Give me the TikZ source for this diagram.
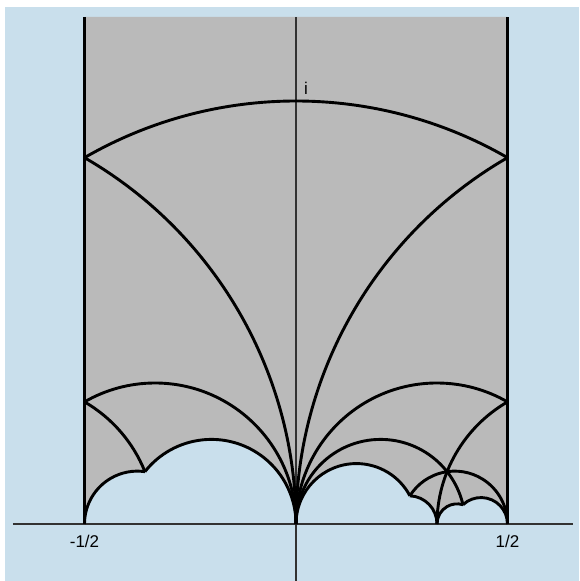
\documentclass[tikz,border=0pt]{standalone}
\usepackage{fontspec}
\setmainfont{Liberation Sans}
\definecolor{bgblue}{RGB}{201,223,236}
\definecolor{domgray}{RGB}{186,186,186}
\definecolor{axisgray}{RGB}{50,50,50}
\begin{document}
\begin{tikzpicture}[x=1pt,y=1pt,
  thickline/.style={line width=2.9pt,black},
  axisline/.style={line width=1.2pt,axisgray},
  lab/.style={font=\fontsize{17}{19}\selectfont,inner sep=0pt}]
\useasboundingbox (0,0) rectangle (579,581);
\fill[white] (0,0) rectangle (579,581);
\fill[bgblue] (5,0) rectangle (579,574);
\begin{scope}[shift={(296pt,57pt)},x=423pt,y=423pt]
  \coordinate (O) at (0,0);
  \coordinate (Lh) at (-0.5,0);
  \coordinate (Rh) at (0.5,0);
  \coordinate (T) at (0.3333333,0);
  \coordinate (Ltop) at (-0.5,1.198582);
  \coordinate (Rtop) at (0.5,1.198582);
  \coordinate (P1) at (-0.5,0.8660254);
  \coordinate (P2) at (0.5,0.8660254);
  \coordinate (Q1) at (-0.5,0.2886751);
  \coordinate (Q2) at (0.5,0.2886751);
  \coordinate (C) at (-0.3571429,0.1237179);
  \coordinate (X) at (0.3571429,0.1237179);
  \coordinate (A) at (0.2692308,0.0666173);
  \coordinate (B) at (0.3947368,0.0455803);
  \coordinate (AxL) at (-0.6690307,0);
  \coordinate (AxR) at (0.6548463,0);
  \coordinate (AxB) at (0,-0.1347518);
  \coordinate (AxT) at (0,1.198582);
  % gray domain
  \fill[domgray] (Ltop) -- (Lh)
    arc[start angle=180,end angle=81.787,radius=52.875pt]
    arc[start angle=141.787,end angle=0,radius=84.6pt]
    arc[start angle=180,end angle=27.796,radius=60.42857pt]
    arc[start angle=87.796,end angle=0,radius=28.2pt]
    arc[start angle=180,end angle=73.174,radius=20.142857pt]
    arc[start angle=133.174,end angle=0,radius=26.4375pt]
    -- (Rtop) -- cycle;
  % axes
  \draw[axisline] (AxL) -- (AxR);
  \draw[axisline] (AxB) -- (AxT);
  % thick boundary lines
  \draw[thickline] (Lh) -- (Ltop);
  \draw[thickline] (Rh) -- (Rtop);
  \draw[thickline] (P2) arc[start angle=60,end angle=120,radius=423pt];
  \draw[thickline] (O) arc[start angle=0,end angle=60,radius=423pt];
  \draw[thickline] (O) arc[start angle=180,end angle=120,radius=423pt];
  \draw[thickline] (O) arc[start angle=0,end angle=120,radius=141pt];
  \draw[thickline] (O) arc[start angle=180,end angle=60,radius=141pt];
  \draw[thickline] (Q1) arc[start angle=60,end angle=21.787,radius=141pt];
  \draw[thickline] (Q2) arc[start angle=120,end angle=180,radius=141pt];
  \draw[thickline] (Lh) arc[start angle=180,end angle=81.787,radius=52.875pt];
  \draw[thickline] (C) arc[start angle=141.787,end angle=0,radius=84.6pt];
  \draw[thickline] (O) arc[start angle=180,end angle=13.174,radius=84.6pt];
  \draw[thickline] (A) arc[start angle=147.796,end angle=0,radius=52.875pt];
  \draw[thickline] (O) arc[start angle=180,end angle=27.796,radius=60.42857pt];
  \draw[thickline] (A) arc[start angle=87.796,end angle=0,radius=28.2pt];
  \draw[thickline] (T) arc[start angle=180,end angle=73.174,radius=20.142857pt];
  \draw[thickline] (B) arc[start angle=133.174,end angle=0,radius=26.4375pt];
  % labels
  \node[lab] (lm) at (-0.5,-0.0402) {-1/2};
  \node[lab] (lp) at (0.5,-0.0402) {1/2};
  \node[lab] (li) at (0.0236,1.031) {i};
\end{scope}
\end{tikzpicture}
\end{document}
